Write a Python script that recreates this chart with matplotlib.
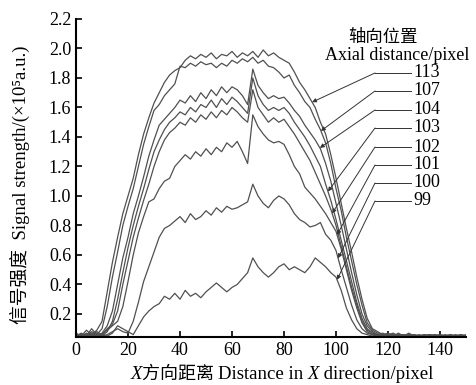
import numpy as np
import matplotlib
matplotlib.use('Agg')
import matplotlib.pyplot as plt
from matplotlib.offsetbox import TextArea, HPacker, AnnotationBbox
from matplotlib.ticker import FormatStrFormatter

plt.rcParams['font.family'] = ['Liberation Serif', 'Noto Sans CJK SC', 'DejaVu Serif']

# X方向采样位置 (pixel)
x = np.arange(0, 151, 2)

# 各轴向位置的信号强度 (×10^5 a.u.)
s113 = [0.06, 0.05, 0.07, 0.06, 0.09, 0.15, 0.35, 0.55, 0.72, 0.88,
        1.00, 1.12, 1.28, 1.42, 1.53, 1.63, 1.70, 1.77, 1.82, 1.85,
        1.87, 1.92, 1.95, 1.93, 1.96, 1.94, 1.97, 1.93, 1.96, 1.95,
        1.98, 1.94, 1.97, 1.95, 1.98, 1.94, 1.99, 1.95, 1.97, 1.94,
        1.92, 1.90, 1.84, 1.77, 1.72, 1.66, 1.60, 1.50, 1.42, 1.28,
        1.12, 0.95, 0.78, 0.62, 0.45, 0.30, 0.17, 0.10, 0.08, 0.06,
        0.07, 0.05, 0.06, 0.05, 0.06, 0.05, 0.05, 0.06, 0.05, 0.05,
        0.06, 0.05, 0.05, 0.05, 0.06, 0.05]
s107 = [0.05, 0.06, 0.05, 0.08, 0.06, 0.10, 0.25, 0.45, 0.62, 0.80,
        0.93, 1.05, 1.20, 1.35, 1.47, 1.58, 1.62, 1.68, 1.72, 1.76,
        1.88, 1.87, 1.90, 1.88, 1.91, 1.89, 1.90, 1.87, 1.90, 1.88,
        1.92, 1.90, 1.93, 1.91, 1.94, 1.90, 1.92, 1.88, 1.87, 1.84,
        1.80, 1.82, 1.75, 1.70, 1.64, 1.60, 1.52, 1.45, 1.36, 1.22,
        1.05, 0.90, 0.72, 0.56, 0.40, 0.26, 0.14, 0.09, 0.07, 0.05,
        0.06, 0.07, 0.05, 0.06, 0.05, 0.05, 0.06, 0.05, 0.05, 0.06,
        0.05, 0.05, 0.06, 0.05, 0.05, 0.05]
s104 = [0.06, 0.05, 0.09, 0.06, 0.05, 0.07, 0.12, 0.22, 0.40, 0.58,
        0.72, 0.88, 1.00, 1.13, 1.27, 1.38, 1.48, 1.52, 1.56, 1.60,
        1.65, 1.63, 1.68, 1.64, 1.70, 1.66, 1.72, 1.68, 1.74, 1.70,
        1.74, 1.72, 1.68, 1.62, 1.86, 1.75, 1.70, 1.66, 1.68, 1.66,
        1.67, 1.63, 1.58, 1.54, 1.48, 1.43, 1.38, 1.32, 1.22, 1.10,
        0.95, 0.80, 0.64, 0.48, 0.33, 0.20, 0.12, 0.08, 0.06, 0.07,
        0.05, 0.06, 0.05, 0.05, 0.06, 0.05, 0.05, 0.05, 0.06, 0.05,
        0.05, 0.06, 0.05, 0.05, 0.05, 0.06]
s103 = [0.05, 0.07, 0.05, 0.10, 0.06, 0.05, 0.08, 0.15, 0.30, 0.48,
        0.65, 0.80, 0.93, 1.05, 1.18, 1.30, 1.38, 1.45, 1.50, 1.53,
        1.57, 1.55, 1.60, 1.57, 1.62, 1.60, 1.65, 1.60, 1.66, 1.62,
        1.67, 1.64, 1.60, 1.56, 1.80, 1.68, 1.62, 1.58, 1.60, 1.58,
        1.60, 1.56, 1.50, 1.45, 1.40, 1.34, 1.27, 1.20, 1.08, 0.97,
        0.84, 0.70, 0.56, 0.42, 0.28, 0.17, 0.10, 0.07, 0.06, 0.05,
        0.06, 0.05, 0.07, 0.05, 0.05, 0.06, 0.05, 0.05, 0.05, 0.06,
        0.05, 0.05, 0.05, 0.06, 0.05, 0.05]
s102 = [0.07, 0.05, 0.06, 0.05, 0.08, 0.06, 0.10, 0.13, 0.22, 0.40,
        0.56, 0.72, 0.85, 0.97, 1.08, 1.20, 1.30, 1.38, 1.43, 1.46,
        1.50, 1.48, 1.53, 1.50, 1.55, 1.52, 1.57, 1.53, 1.58, 1.55,
        1.60, 1.57, 1.53, 1.50, 1.72, 1.60, 1.55, 1.50, 1.53, 1.50,
        1.52, 1.47, 1.42, 1.36, 1.30, 1.24, 1.16, 1.08, 1.00, 0.91,
        0.80, 0.66, 0.52, 0.38, 0.26, 0.15, 0.09, 0.07, 0.05, 0.06,
        0.05, 0.05, 0.06, 0.05, 0.07, 0.05, 0.05, 0.05, 0.06, 0.05,
        0.05, 0.05, 0.06, 0.05, 0.05, 0.05]
s101 = [0.05, 0.06, 0.05, 0.07, 0.05, 0.06, 0.09, 0.12, 0.15, 0.25,
        0.42, 0.60, 0.75, 0.86, 0.96, 0.98, 1.05, 1.10, 1.12, 1.20,
        1.24, 1.28, 1.25, 1.30, 1.27, 1.32, 1.28, 1.33, 1.30, 1.36,
        1.33, 1.37, 1.30, 1.22, 1.55, 1.47, 1.42, 1.38, 1.36, 1.37,
        1.35, 1.28, 1.20, 1.15, 1.06, 1.02, 0.98, 0.93, 0.88, 0.82,
        0.76, 0.64, 0.50, 0.36, 0.24, 0.14, 0.08, 0.06, 0.05, 0.06,
        0.05, 0.06, 0.05, 0.05, 0.05, 0.06, 0.05, 0.05, 0.05, 0.05,
        0.06, 0.05, 0.05, 0.05, 0.05, 0.05]
s100 = [0.06, 0.05, 0.06, 0.05, 0.07, 0.05, 0.06, 0.08, 0.10, 0.08,
        0.07, 0.15, 0.28, 0.42, 0.52, 0.62, 0.72, 0.78, 0.80, 0.83,
        0.86, 0.82, 0.88, 0.84, 0.86, 0.90, 0.87, 0.92, 0.89, 0.93,
        0.91, 0.92, 0.94, 0.96, 1.08, 1.00, 0.95, 0.92, 0.97, 1.00,
        0.98, 0.94, 0.88, 0.84, 0.82, 0.79, 0.80, 0.82, 0.74, 0.70,
        0.63, 0.50, 0.38, 0.26, 0.16, 0.10, 0.07, 0.06, 0.05, 0.06,
        0.05, 0.05, 0.05, 0.06, 0.05, 0.05, 0.05, 0.05, 0.06, 0.05,
        0.05, 0.05, 0.05, 0.05, 0.06, 0.05]
s99 = [0.05, 0.06, 0.05, 0.06, 0.05, 0.06, 0.05, 0.07, 0.12, 0.10,
       0.08, 0.06, 0.12, 0.18, 0.22, 0.25, 0.27, 0.32, 0.30, 0.34,
       0.30, 0.36, 0.32, 0.34, 0.31, 0.35, 0.38, 0.41, 0.38, 0.35,
       0.38, 0.40, 0.44, 0.48, 0.58, 0.52, 0.48, 0.45, 0.48, 0.52,
       0.54, 0.50, 0.52, 0.50, 0.48, 0.52, 0.58, 0.55, 0.52, 0.48,
       0.45, 0.36, 0.24, 0.16, 0.10, 0.07, 0.06, 0.05, 0.06, 0.05,
       0.05, 0.05, 0.06, 0.05, 0.05, 0.05, 0.05, 0.06, 0.05, 0.05,
       0.05, 0.05, 0.05, 0.05, 0.05, 0.05]

labels = ['113', '107', '104', '103', '102', '101', '100', '99']
series = [s113, s107, s104, s103, s102, s101, s100, s99]

# 箭头指向曲线的位置 (x) 以及标注所在高度 (y)
arrow_x = [90.8, 94.2, 93.8, 96.9, 98.5, 100.4, 100.8, 100.4]
label_y = [1.834, 1.712, 1.583, 1.461, 1.332, 1.210, 1.088, 0.966]

line_color = '#505050'
fs = 13

fig = plt.figure(figsize=(4.76, 3.85), dpi=100)
ax = fig.add_axes([0.1597, 0.1255, 0.8193, 0.8252])

for s in series:
    ax.plot(x, s, color=line_color, lw=0.9)

# 引线: 折点 -> 箭头, 折点 -> 数字
for lab, ax_x, ly, s in zip(labels, arrow_x, label_y, series):
    ty = np.interp(ax_x, x, s)
    ax.annotate('', xy=(ax_x, ty), xytext=(115, ly),
                arrowprops=dict(arrowstyle='-|>', color='#333333', lw=0.7,
                                mutation_scale=6, shrinkA=0, shrinkB=0))
    ax.plot([115, 128.8], [ly, ly], color='#333333', lw=0.7)
    ax.text(129.6, ly, lab, fontsize=fs, ha='left', va='center')

ax.text(118, 2.08, '轴向位置', fontsize=12.5, ha='center', va='center',
        family=['Noto Sans CJK SC'])
ax.text(123.5, 1.95, 'Axial distance/pixel', fontsize=fs, ha='center', va='center')

ax.set_xlim(0, 150)
ax.set_ylim(0.046, 2.2)
ax.set_xticks(np.arange(0, 141, 20))
ax.set_yticks(np.arange(0.2, 2.21, 0.2))
ax.yaxis.set_major_formatter(FormatStrFormatter('%.1f'))
ax.tick_params(direction='in', length=4, width=1.2, labelsize=fs)

for side in ['top', 'right']:
    ax.spines[side].set_visible(False)
for side in ['left', 'bottom']:
    ax.spines[side].set_linewidth(1.5)

# 纵轴标题
fig.text(20 / 476, 1 - 185 / 385, '信号强度  Signal strength/(×10⁵a.u.)',
         rotation=90, ha='center', va='center', fontsize=13.5)

# 横轴标题 (X 用斜体)
parts = [
    TextArea('X', textprops=dict(fontsize=13.5, style='italic', family='Liberation Serif')),
    TextArea('方向距离 ', textprops=dict(fontsize=13, family='Noto Sans CJK SC')),
    TextArea('Distance in ', textprops=dict(fontsize=13.5, family='Liberation Serif')),
    TextArea('X', textprops=dict(fontsize=13.5, style='italic', family='Liberation Serif')),
    TextArea(' direction/pixel', textprops=dict(fontsize=13.5, family='Liberation Serif')),
]
xlabel_box = HPacker(children=parts, align='baseline', pad=0, sep=0)
ab = AnnotationBbox(xlabel_box, (282 / 476, 1 - 374 / 385), xycoords='figure fraction',
                    box_alignment=(0.5, 0.5), frameon=False)
fig.add_artist(ab)

fig.savefig('out.png', dpi=100)
